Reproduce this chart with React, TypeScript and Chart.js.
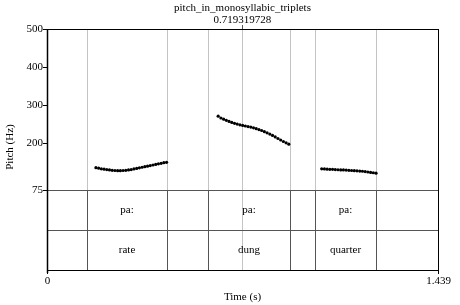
import { useEffect, useRef } from "react";
import { Chart, registerables } from "chart.js";
Chart.register(...registerables);

const titleText = "pitch_in_monosyllabic_triplets";
const cursorTime = 0.719319728;
const cursorLabel = "0.719319728";
const xMin = 0;
const xMax = 1.439;
const xTickLabels = ["0", "1.439"];
const yAxisTitle = "Pitch (Hz)";
const xAxisTitle = "Time (s)";
const yTicks = [500, 400, 300, 200, 75];
const yMax = 500;
const pitchFloor = 75;
const tierMid = -30.6;
const tierBottom = -136.2;

const boundaries = [0.147, 0.442, 0.593, 0.894, 0.986, 1.211];
const tier1Labels = ["pa:", "pa:", "pa:"];
const tier2Labels = ["rate", "dung", "quarter"];
const intervalStarts = [0.147, 0.593, 0.986];
const intervalEnds = [0.442, 0.894, 1.211];

const frameStep = 0.01;
const seg1Start = 0.18;
const seg1Values = [134, 132.5, 131, 130, 129, 128, 127, 126.5, 126, 126, 126.5, 127, 128, 129, 130.5, 132, 133.5, 135, 136.5, 138, 139.5, 141, 142.5, 144, 145.5, 147, 148];
const seg2Start = 0.63;
const seg2Values = [270, 265, 262, 259, 256, 253.5, 251, 249, 247, 245.5, 244, 242.5, 241, 239, 237, 234.5, 232, 229, 226, 222.5, 219, 215, 211, 207, 203, 199.5, 196];
const seg3Start = 1.011;
const seg3Values = [131, 130.5, 130, 129.5, 129.5, 129, 128.5, 128, 128, 127.5, 127, 126.5, 126, 125.5, 125, 124.5, 123.5, 122.5, 121.5, 120.5, 119.5];

const FONT = "11px 'Liberation Serif'";

function toPoints(start: number, vals: number[]) {
  return vals.map((v, i) => ({ x: start + i * frameStep, y: v }));
}

const praatPlugin = {
  id: "praat",
  beforeDatasetsDraw(chart: any) {
    const { ctx, chartArea, scales } = chart;
    const xs = scales.x;
    const ys = scales.y;
    const top = chartArea.top;
    const bottom = chartArea.bottom;
    const left = chartArea.left;
    const right = chartArea.right;
    const yFloor = ys.getPixelForValue(pitchFloor);
    const yMid = ys.getPixelForValue(tierMid);
    ctx.save();
    ctx.lineWidth = 1;
    // light lines in pitch area
    ctx.strokeStyle = "#c4c4c4";
    for (const b of boundaries) {
      const px = Math.round(xs.getPixelForValue(b)) + 0.5;
      ctx.beginPath();
      ctx.moveTo(px, top);
      ctx.lineTo(px, yFloor);
      ctx.stroke();
    }
    // cursor
    const cx = Math.round(xs.getPixelForValue(cursorTime)) + 0.5;
    ctx.beginPath();
    ctx.moveTo(cx, top);
    ctx.lineTo(cx, bottom);
    ctx.stroke();
    ctx.strokeStyle = "#555";
    ctx.beginPath();
    ctx.moveTo(cx, top - 4);
    ctx.lineTo(cx, top);
    ctx.stroke();
    // dark boundaries in tiers
    ctx.strokeStyle = "#555";
    for (const b of boundaries) {
      const px = Math.round(xs.getPixelForValue(b)) + 0.5;
      ctx.beginPath();
      ctx.moveTo(px, yFloor);
      ctx.lineTo(px, bottom);
      ctx.stroke();
    }
    // horizontal tier lines
    for (const yy of [yFloor, yMid]) {
      const py = Math.round(yy) + 0.5;
      ctx.beginPath();
      ctx.moveTo(left, py);
      ctx.lineTo(right, py);
      ctx.stroke();
    }
    // tier labels
    ctx.fillStyle = "#000";
    ctx.font = FONT;
    ctx.textAlign = "center";
    ctx.textBaseline = "middle";
    const t1y = (yFloor + yMid) / 2;
    const t2y = (yMid + ys.getPixelForValue(tierBottom)) / 2;
    for (let i = 0; i < intervalStarts.length; i++) {
      const mx = (xs.getPixelForValue(intervalStarts[i]) + xs.getPixelForValue(intervalEnds[i])) / 2;
      ctx.fillText(tier1Labels[i], mx, t1y);
      ctx.fillText(tier2Labels[i], mx, t2y);
    }
    ctx.restore();
  },
  afterDraw(chart: any) {
    const { ctx, chartArea, scales } = chart;
    const xs = scales.x;
    const ys = scales.y;
    const top = chartArea.top;
    const bottom = chartArea.bottom;
    const left = chartArea.left;
    const right = chartArea.right;
    ctx.save();
    ctx.strokeStyle = "#000";
    ctx.lineWidth = 1;
    ctx.strokeRect(Math.round(left) + 0.5, Math.round(top) + 0.5, Math.round(right - left), Math.round(bottom - top));
    ctx.lineWidth = 1.5;
    ctx.beginPath();
    ctx.moveTo(Math.round(left) + 0.5, top);
    ctx.lineTo(Math.round(left) + 0.5, bottom + 3);
    ctx.stroke();
    ctx.lineWidth = 1;
    ctx.fillStyle = "#000";
    ctx.font = FONT;
    // y ticks
    ctx.textAlign = "right";
    ctx.textBaseline = "middle";
    for (const t of yTicks) {
      const py = Math.round(ys.getPixelForValue(t)) + 0.5;
      ctx.beginPath();
      ctx.moveTo(left - 4, py);
      ctx.lineTo(left, py);
      ctx.stroke();
      ctx.fillText(String(t), left - 4, py);
    }
    // x ticks
    ctx.textAlign = "center";
    ctx.textBaseline = "middle";
    const xv = [xMin, xMax];
    for (let i = 0; i < xv.length; i++) {
      const px = Math.round(xs.getPixelForValue(xv[i])) + 0.5;
      ctx.beginPath();
      ctx.moveTo(px, bottom);
      ctx.lineTo(px, bottom + 4);
      ctx.stroke();
      ctx.fillText(xTickLabels[i], px, bottom + 11);
    }
    const midX = (left + right) / 2;
    ctx.fillText(xAxisTitle, midX, bottom + 27);
    ctx.fillText(titleText, midX, 8);
    ctx.fillText(cursorLabel, xs.getPixelForValue(cursorTime), 20);
    // y title
    ctx.save();
    ctx.translate(10, 147);
    ctx.rotate(-Math.PI / 2);
    ctx.fillText(yAxisTitle, 0, 0);
    ctx.restore();
    ctx.restore();
  },
};

export default function App() {
  const ref = useRef<HTMLCanvasElement | null>(null);
  useEffect(() => {
    if (!ref.current) return;
    const chart = new Chart(ref.current, {
      type: "scatter",
      data: {
        datasets: [
          { data: toPoints(seg1Start, seg1Values) },
          { data: toPoints(seg2Start, seg2Values) },
          { data: toPoints(seg3Start, seg3Values) },
        ].map((d) => ({
          ...d,
          showLine: false,
          pointRadius: 1.6,
          pointBackgroundColor: "#000",
          pointBorderColor: "#000",
          pointBorderWidth: 0,
        })),
      },
      options: {
        responsive: false,
        animation: false,
        layout: { padding: { left: 47, right: 22, top: 29, bottom: 35 } },
        plugins: { legend: { display: false }, tooltip: { enabled: false } },
        scales: {
          x: { type: "linear", min: xMin, max: xMax, display: false },
          y: { type: "linear", min: tierBottom, max: yMax, display: false },
        },
      },
      plugins: [praatPlugin],
    });
    return () => chart.destroy();
  }, []);
  return (
    <div style={{ position: "absolute", left: 0, top: 0, width: 460, height: 305, background: "#fff" }}>
      <canvas ref={ref} width={460} height={305} style={{ display: "block" }} />
    </div>
  );
}
